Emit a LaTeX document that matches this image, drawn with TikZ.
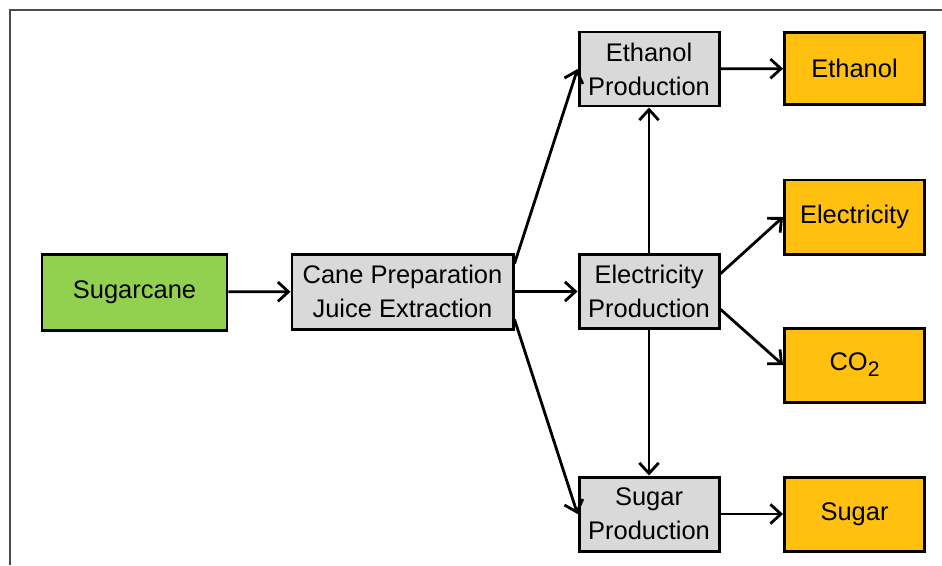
\documentclass[tikz,border=0pt]{standalone}
\usepackage{fontspec}
\setmainfont{Liberation Sans}
\usetikzlibrary{arrows.meta}

\newlength{\du}
\setlength{\du}{0.02cm}

\definecolor{procgray}{rgb}{0.851, 0.851, 0.851}
\definecolor{prodorange}{rgb}{1.000, 0.753, 0.063}
\definecolor{canegreen}{rgb}{0.573, 0.816, 0.314}
\definecolor{framegray}{rgb}{0.300, 0.300, 0.300}

\tikzset{
  basebox/.style={draw=black, line width=1.7pt, align=center, inner sep=0pt,
    minimum width=140\du, minimum height=74\du,
    font=\fontsize{14.5}{19.3}\selectfont},
  procbox/.style={basebox, fill=procgray},
  prodbox/.style={basebox, fill=prodorange},
  inbox/.style={basebox, fill=canegreen, minimum width=185\du, minimum height=76\du},
  flow/.style={line width=1.6pt, -{Straight Barb[length=6pt, width=11pt, line width=1.6pt]}}
}

\begin{document}
\begin{tikzpicture}
\pgftransformxscale{1.000000}
\pgftransformyscale{-1.000000}
\useasboundingbox (0\du,0\du) rectangle (942\du,565\du);
% frame
\draw[framegray, line width=1.4pt] (10\du,565\du) -- (10\du,10\du) -- (942\du,10\du);
% input and first step
\node[inbox] (sugarcane) at (134.5\du,292\du) {Sugarcane};
\node[procbox, minimum width=221\du, minimum height=75\du] (caneprep) at (402.5\du,291.5\du) {Cane Preparation\\Juice Extraction};
% production steps
\node[procbox] (ethprod) at (649\du,69\du) {Ethanol\\Production};
\node[procbox] (elecprod) at (649\du,291.5\du) {Electricity\\Production};
\node[procbox] (sugarprod) at (649\du,514\du) {Sugar\\Production};
% products
\node[prodbox, minimum height=72\du] (ethanol) at (854.5\du,68.5\du) {Ethanol};
\node[prodbox] (electricity) at (854.5\du,217\du) {Electricity};
\node[prodbox] (co2) at (854.5\du,365\du) {CO\raisebox{-0.45ex}{\fontsize{12}{12}\selectfont 2}};
\node[prodbox] (sugar) at (854.5\du,514\du) {Sugar};
% connectors
\draw[flow] (sugarcane) -- (caneprep);
\draw[flow] (caneprep.14) -- (ethprod.west);
\draw[flow] (caneprep) -- (elecprod);
\draw[flow] (caneprep.-14) -- (sugarprod.west);
\draw[flow] (elecprod) -- (ethprod);
\draw[flow] (elecprod) -- (sugarprod);
\draw[flow] (elecprod.14) -- (electricity.west);
\draw[flow] (elecprod.-14) -- (co2.west);
\draw[flow] (ethprod) -- (ethanol);
\draw[flow] (sugarprod) -- (sugar);
\end{tikzpicture}
\end{document}
